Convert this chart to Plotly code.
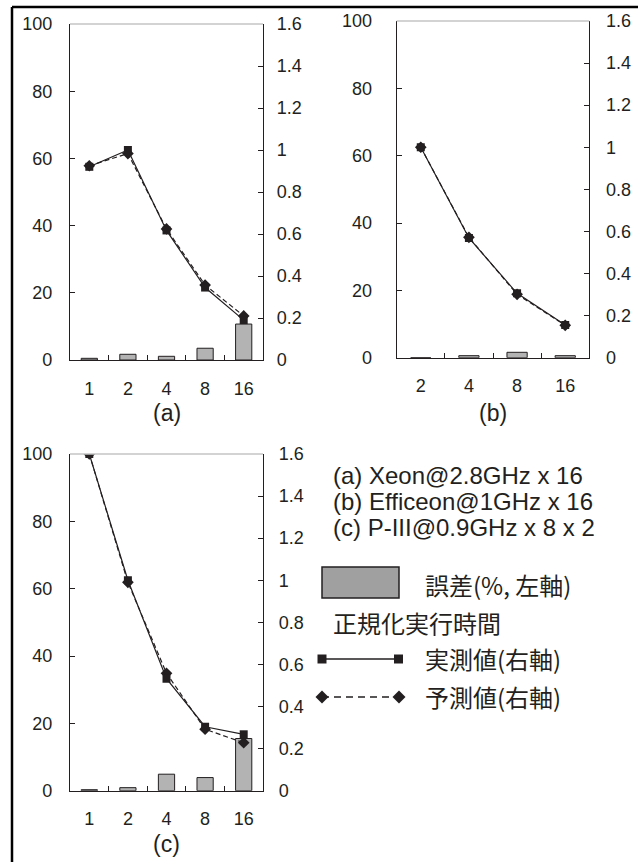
import plotly.graph_objects as go

# ---------------- data ----------------
cats_a = ["1", "2", "4", "8", "16"]
err_a = [0.5, 1.7, 1.1, 3.5, 10.7]
meas_a = [0.92, 1.0, 0.617, 0.345, 0.19]
pred_a = [0.925, 0.983, 0.624, 0.357, 0.21]

cats_b = ["2", "4", "8", "16"]
err_b = [0.0, 0.6, 1.6, 0.6]
meas_b = [1.0, 0.569, 0.306, 0.155]
pred_b = [1.0, 0.572, 0.301, 0.154]

cats_c = ["1", "2", "4", "8", "16"]
err_c = [0.3, 0.9, 4.9, 3.9, 15.5]
meas_c = [1.6, 1.0, 0.532, 0.304, 0.268]
pred_c = [1.6, 0.99, 0.558, 0.292, 0.228]

panel_labels = ["(a)", "(b)", "(c)"]
machine_labels = ["(a) Xeon@2.8GHz x 16", "(b) Efficeon@1GHz x 16", "(c) P-III@0.9GHz x 8 x 2"]
legend_err = "誤差(%, 左軸)"
legend_title = "正規化実行時間"
legend_meas = "実測値(右軸)"
legend_pred = "予測値(右軸)"

left_range = [0, 100]
right_range = [0, 1.6]

# ---------------- style ----------------
W, H = 638, 862
INK = "#231f20"
LAT = "Liberation Sans, Arial, sans-serif"
CJK = "Noto Sans CJK JP, sans-serif"
BAR_FILL = "#b3b3b3"


def px(x):
    return x / W


def py(y):
    return 1 - y / H


panels = [
    dict(cats=cats_a, err=err_a, meas=meas_a, pred=pred_a, xa="x", yl="y", yr="y2",
         xd=(70, 263), yd=(24, 360), lstand=13, rstand=9, label=panel_labels[0], lab_y=413),
    dict(cats=cats_b, err=err_b, meas=meas_b, pred=pred_b, xa="x2", yl="y3", yr="y4",
         xd=(396.7, 589.3), yd=(21, 357.7), lstand=20, rstand=12, label=panel_labels[1], lab_y=413),
    dict(cats=cats_c, err=err_c, meas=meas_c, pred=pred_c, xa="x3", yl="y5", yr="y6",
         xd=(70, 263), yd=(454, 790.7), lstand=13, rstand=11, label=panel_labels[2], lab_y=844),
]

fig = go.Figure()
layout = dict(
    width=W, height=H, margin=dict(l=0, r=0, t=0, b=0, pad=0, autoexpand=False),
    paper_bgcolor="white", plot_bgcolor="rgba(0,0,0,0)",
    showlegend=False, font=dict(family=LAT, color=INK),
)
shapes = []
annotations = []


def axname(a):
    return a.replace("x", "xaxis").replace("y", "yaxis")


for p in panels:
    fig.add_trace(go.Bar(x=p["cats"], y=p["err"], xaxis=p["xa"], yaxis=p["yl"], width=0.42,
                         marker=dict(color=BAR_FILL, line=dict(color=INK, width=1))))
    fig.add_trace(go.Scatter(x=p["cats"], y=p["pred"], xaxis=p["xa"], yaxis=p["yr"],
                             mode="lines+markers",
                             line=dict(color=INK, width=1.2, dash="5px,3px"),
                             marker=dict(symbol="diamond", size=9, color=INK)))
    fig.add_trace(go.Scatter(x=p["cats"], y=p["meas"], xaxis=p["xa"], yaxis=p["yr"],
                             mode="lines+markers",
                             line=dict(color=INK, width=1.2),
                             marker=dict(symbol="square", size=8, color=INK)))

    xk = axname(p["xa"])
    ylk = axname(p["yl"])
    yrk = axname(p["yr"])
    layout[xk] = dict(
        domain=[px(p["xd"][0]), px(p["xd"][1])], anchor=p["yl"],
        type="category", categoryorder="array", categoryarray=p["cats"],
        showline=True, linecolor=INK, linewidth=1.2,
        ticks="inside", tickson="boundaries", ticklen=5, tickcolor=INK, tickwidth=1,
        showgrid=False, zeroline=False, ticklabelstandoff=12, automargin=False,
        tickfont=dict(family=LAT, size=18, color=INK), fixedrange=True,
    )
    layout[ylk] = dict(
        domain=[py(p["yd"][1]), py(p["yd"][0])], anchor=p["xa"], range=left_range,
        tick0=0, dtick=20, showline=True, linecolor=INK, linewidth=1.2,
        ticks="inside", ticklen=5, tickcolor=INK, tickwidth=1, automargin=False,
        showgrid=False, zeroline=False, ticklabelstandoff=p["lstand"],
        tickfont=dict(family=LAT, size=18, color=INK), fixedrange=True,
    )
    layout[yrk] = dict(
        overlaying=p["yl"], side="right", anchor=p["xa"], range=right_range,
        tick0=0, dtick=0.2, showline=True, linecolor=INK, linewidth=1.2,
        ticks="inside", ticklen=5, tickcolor=INK, tickwidth=1, automargin=False,
        showgrid=False, zeroline=False, ticklabelstandoff=p["rstand"],
        tickfont=dict(family=LAT, size=18, color=INK), fixedrange=True,
    )
    shapes.append(dict(type="line", xref=p["xa"] + " domain", yref=p["yl"] + " domain",
                       x0=0, x1=1, y0=1, y1=1, line=dict(color="#c4c4c4", width=1.5)))
    annotations.append(dict(text=p["label"], xref="paper", yref="paper",
                            x=px((p["xd"][0] + p["xd"][1]) / 2), y=py(p["lab_y"]),
                            xanchor="center", yanchor="middle", showarrow=False,
                            font=dict(family=LAT, size=23, color=INK)))

# ---------------- legend block ----------------
for i, t in enumerate(machine_labels):
    annotations.append(dict(text=t, xref="paper", yref="paper", x=px(331), y=py(476 + 25.7 * i),
                            xanchor="left", yanchor="middle", showarrow=False,
                            font=dict(family=LAT, size=24, color=INK)))

shapes.append(dict(type="rect", xref="paper", yref="paper",
                   x0=px(322), x1=px(399), y0=py(598), y1=py(567),
                   fillcolor="#a0a0a0", line=dict(color=INK, width=1.5)))
annotations.append(dict(text=legend_err, xref="paper", yref="paper", x=px(423), y=py(584),
                        xanchor="left", yanchor="middle", showarrow=False,
                        font=dict(family=CJK, size=24, color=INK)))
annotations.append(dict(text=legend_title, xref="paper", yref="paper", x=px(331), y=py(622),
                        xanchor="left", yanchor="middle", showarrow=False,
                        font=dict(family=CJK, size=24, color=INK)))

shapes.append(dict(type="line", xref="paper", yref="paper", x0=px(322), x1=px(398.5),
                   y0=py(659), y1=py(659), line=dict(color=INK, width=1.5)))
for cx in (322, 398.5):
    shapes.append(dict(type="rect", xref="paper", yref="paper",
                       x0=px(cx - 4.5), x1=px(cx + 4.5), y0=py(663.5), y1=py(654.5),
                       fillcolor=INK, line=dict(width=0)))
annotations.append(dict(text=legend_meas, xref="paper", yref="paper", x=px(423), y=py(658),
                        xanchor="left", yanchor="middle", showarrow=False,
                        font=dict(family=CJK, size=24, color=INK)))

shapes.append(dict(type="line", xref="paper", yref="paper", x0=px(322), x1=px(399),
                   y0=py(697), y1=py(697), line=dict(color=INK, width=1.5, dash="7px,5px")))
for cx in (322, 399):
    cy = 697
    path = "M {} {} L {} {} L {} {} L {} {} Z".format(
        px(cx - 6.5), py(cy), px(cx), py(cy - 6.5), px(cx + 6.5), py(cy), px(cx), py(cy + 6.5))
    shapes.append(dict(type="path", xref="paper", yref="paper", path=path,
                       fillcolor=INK, line=dict(width=0)))
annotations.append(dict(text=legend_pred, xref="paper", yref="paper", x=px(423), y=py(696),
                        xanchor="left", yanchor="middle", showarrow=False,
                        font=dict(family=CJK, size=24, color=INK)))

# outer frame (top and left edges)
shapes.append(dict(type="line", xref="paper", yref="paper", x0=px(12), x1=1, y0=py(7), y1=py(7),
                   line=dict(color="black", width=2.5)))
shapes.append(dict(type="line", xref="paper", yref="paper", x0=px(12), x1=px(12), y0=py(7), y1=0,
                   line=dict(color="black", width=2.5)))

layout["shapes"] = shapes
layout["annotations"] = annotations
fig.update_layout(**layout)

fig.write_html(
    "out.html",
    config={"displayModeBar": False, "responsive": False},
    post_script=(
        "document.body.style.margin='0';document.body.style.padding='0';"
        "document.documentElement.style.overflow='hidden';"
        "var d=document.getElementById('{plot_id}');"
        "d.style.position='fixed';d.style.top='0px';d.style.left='0px';"
    ),
)
